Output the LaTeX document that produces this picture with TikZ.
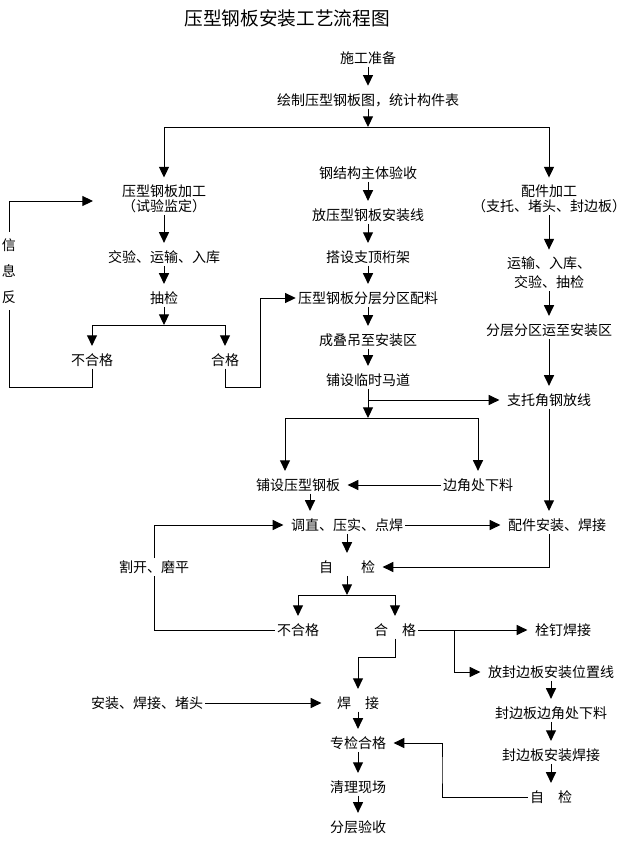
\documentclass[tikz,border=0pt]{standalone}
\usepackage{fontspec}
\setmainfont{Noto Sans CJK SC}
\usepackage{tikz}
\usetikzlibrary{arrows.meta, calc, positioning}
\tikzstyle{txt} = [inner sep=1.5pt, font=\fontsize{10.5}{11}\selectfont, align=center]
\tikzstyle{link} = [line width=0.75pt]
\tikzstyle{arrow} = [line width=0.75pt, -{Triangle[length=8pt,width=7.5pt]}]
\tikzstyle{tonode} = [shorten >=4pt]

\begin{document}
\begin{tikzpicture}[x=0.75pt, y=-0.75pt]
	\useasboundingbox (0,0) rectangle (632,843);
	\node (Title) [font=\fontsize{14}{16}\selectfont] at (287,18) {压型钢板安装工艺流程图};
	\node (Prepare) [txt] at (368,58) {施工准备};
	\node (Drawing) [txt] at (368,100) {绘制压型钢板图，统计构件表};
	\coordinate (TopSplit) at (368,127);
	\draw [arrow, tonode] (Prepare) -- (Drawing);
	\draw [arrow] (Drawing) -- (TopSplit);
	% middle column
	\node (SteelAccept) [txt] at (368,173) {钢结构主体验收};
	\node (SetOut) [txt] at (368,215) {放压型钢板安装线};
	\node (Truss) [txt] at (368,257) {搭设支顶桁架};
	\node (Batch) [txt] at (368,298) {压型钢板分层分区配料};
	\node (Lift) [txt] at (368,340) {成叠吊至安装区};
	\node (Walkway) [txt] at (368,380) {铺设临时马道};
	\draw [arrow, tonode] (SteelAccept) -- (SetOut);
	\draw [arrow, tonode] (SetOut) -- (Truss);
	\draw [arrow, tonode] (Truss) -- (Batch);
	\draw [arrow, tonode] (Batch) -- (Lift);
	\draw [arrow, tonode] (Lift) -- (Walkway);
	% left column
	\node (SheetMake) [txt] at (164,199) {压型钢板加工\\（试验监定）};
	\node (SheetAccept) [txt] at (164,257) {交验、运输、入库};
	\node (SheetSample) [txt] at (164,298) {抽检};
	\coordinate (SampleSplit) at (164,325);
	\node (SheetFail) [txt] at (92,360) {不合格};
	\node (SheetPass) [txt] at (225,360) {合格};
	\node (Feedback) [txt, inner sep=5pt, font=\fontsize{10.5}{19.5}\selectfont] at (9,271) {信\\息\\反};
	\coordinate (FeedbackIn) at (93,201);
	\coordinate (FailLow) at (92,387);
	\coordinate (PassUp) at (260,387);
	\draw [arrow, tonode] (TopSplit) -| (SheetMake);
	\draw [arrow, tonode] (SheetMake) -- (SheetAccept);
	\draw [arrow, tonode] (SheetAccept) -- (SheetSample);
	\draw [arrow] (SheetSample) -- (SampleSplit);
	\draw [arrow, tonode] (SampleSplit) -| (SheetFail);
	\draw [arrow, tonode] (SampleSplit) -| (SheetPass);
	\draw [link] (SheetFail) -- (FailLow) -| (Feedback.south);
	\draw [arrow] (Feedback.north) |- (FeedbackIn);
	\draw [arrow] (SheetPass) |- (PassUp) |- (Batch);
	% right column
	\node (PartsMake) [txt] at (549,199) {配件加工\\（支托、堵头、封边板）};
	\node (PartsHaul) [txt] at (549,273) {运输、入库、\\[3pt]交验、抽检};
	\node (PartsZone) [txt] at (549,330) {分层分区运至安装区};
	\node (AngleLine) [txt] at (549,400) {支托角钢放线};
	\draw [arrow, tonode] (TopSplit) -| (PartsMake);
	\draw [arrow, tonode] (PartsMake) -- (PartsHaul);
	\draw [arrow, tonode] (PartsHaul) -- (PartsZone);
	\draw [arrow, tonode] (PartsZone) -- (AngleLine);
	% laying
	\coordinate (WalkSplit) at (368,400);
	\coordinate (LayFork) at (368,418);
	\node (Laying) [txt] at (298,485) {铺设压型钢板};
	\node (Corner) [txt] at (478,485) {边角处下料};
	\node (Straighten) [txt] at (347,525) {调直、压实、点焊};
	\node (PartsFit) [txt] at (557,525) {配件安装、焊接};
	\node (SelfCheck) [txt] at (347,567) {自\quad\quad 检};
	\node (CutGrind) [txt] at (154,567) {割开、磨平};
	\draw [arrow] (Walkway) -- (LayFork);
	\draw [arrow, tonode] (WalkSplit) -- (AngleLine);
	\draw [arrow, tonode] (LayFork) -| ([xshift=-9.75pt]Laying.north);
	\draw [arrow, tonode] (LayFork) -| (Corner);
	\draw [arrow, tonode] (Corner) -- (Laying);
	\draw [arrow, tonode] ([xshift=9pt]Laying.south) -- ([xshift=9pt]Laying.south |- Straighten.north);
	\draw [arrow, tonode] (AngleLine) -- (AngleLine |- PartsFit.north);
	\draw [arrow, tonode] (Straighten) -- (PartsFit);
	\draw [arrow, tonode] (Straighten) -- (SelfCheck);
	\draw [arrow, tonode] ([xshift=-6pt]PartsFit.south) |- (SelfCheck);
	\draw [arrow, tonode] (CutGrind) |- (Straighten);
	% checking
	\coordinate (CheckFork) at (347,595);
	\node (PanelFail) [txt] at (298,630) {不合格};
	\node (PanelPass) [txt] at (395,630) {合\quad 格};
	\node (Stud) [txt] at (563,630) {栓钉焊接};
	\coordinate (EdgeFork) at (454,630);
	\node (EdgeLine) [txt] at (551,672) {放封边板安装位置线};
	\node (EdgeCut) [txt] at (551,713) {封边板边角处下料};
	\node (EdgeWeld) [txt] at (551,755) {封边板安装焊接};
	\node (EdgeCheck) [txt] at (551,797) {自\quad 检};
	\draw [arrow] (SelfCheck) -- (CheckFork);
	\draw [arrow, tonode] (CheckFork) -| (PanelFail);
	\draw [arrow, tonode] (CheckFork) -| (PanelPass);
	\draw [link] (PanelFail) -| (CutGrind);
	\draw [arrow, tonode] (PanelPass) -- (Stud);
	\draw [arrow, tonode] (EdgeFork) |- (EdgeLine);
	\draw [arrow, tonode] (EdgeLine) -- (EdgeCut);
	\draw [arrow, tonode] (EdgeCut) -- (EdgeWeld);
	\draw [arrow, tonode] (EdgeWeld) -- (EdgeCheck);
	% finishing
	\coordinate (PassDrop) at (358,657);
	\coordinate (ReturnX) at (442,770);
	\node (Weld) [txt] at (358,703) {焊\quad 接};
	\node (Plug) [txt] at (147,703) {安装、焊接、堵头};
	\node (SpecCheck) [txt] at (358,743) {专检合格};
	\node (Cleanup) [txt] at (358,787) {清理现场};
	\node (FloorAccept) [txt] at (358,827) {分层验收};
	\draw [arrow, tonode] (PanelPass) |- (PassDrop) -- (Weld);
	\draw [arrow, shorten >=10pt] (Plug) -- (Weld);
	\draw [arrow, tonode] (Weld) -- (SpecCheck);
	\draw [arrow, tonode] (SpecCheck) -- (Cleanup);
	\draw [arrow, tonode] (Cleanup) -- (FloorAccept);
	\draw [arrow, tonode] (EdgeCheck) -| (ReturnX) |- (SpecCheck);
\end{tikzpicture}
\end{document}
